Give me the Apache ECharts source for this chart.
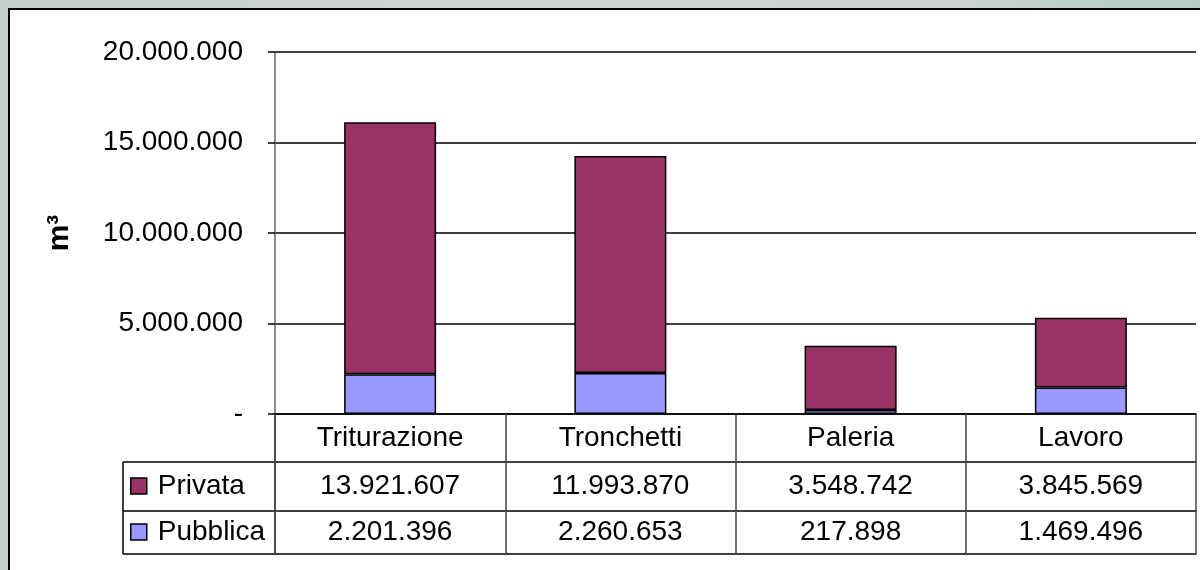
<!DOCTYPE html>
<html>
<head>
<meta charset="utf-8">
<script src="https://cdn.jsdelivr.net/npm/echarts@6/dist/echarts.min.js"></script>
<style>
  html, body { margin: 0; padding: 0; }
  body { width: 1200px; height: 570px; overflow: hidden; position: relative;
         background: linear-gradient(90deg, #c6cfcd 0%, #cfd5d4 40%, #ccd3d2 80%, #b5ccc6 100%); }
  #panel { position: absolute; left: 8px; top: 8px; width: 1200px; height: 570px;
           background: #ffffff; border-left: 2px solid #000; border-top: 2px solid #000; }
  #chart { position: absolute; left: 0; top: 0; width: 1200px; height: 570px; }
</style>
</head>
<body>
<div id="panel"></div>
<div id="chart"></div>
<script>
// ---- data ----
var categories = ['Triturazione', 'Tronchetti', 'Paleria', 'Lavoro'];
var seriesNames = ['Privata', 'Pubblica'];
var privata = [13921607, 11993870, 3548742, 3845569];
var pubblica = [2201396, 2260653, 217898, 1469496];
var yTicks = [0, 5000000, 10000000, 15000000, 20000000];
var yAxisName = 'm\u00B3';

function fmt(v) {
  if (v === 0) return '-';
  return String(Math.round(v)).replace(/\B(?=(\d{3})+(?!\d))/g, '.');
}

var FONT = 'Liberation Sans, Arial, sans-serif';
var FS = 28;
var gridLeft = 275, gridRight = 1196, gridTop = 52, gridBottom = 414;
var row1 = 462, row2 = 511, row3 = 554;

var chart = echarts.init(document.getElementById('chart'), null, { renderer: 'canvas' });

function tableAxis(data, offset, tickLen, margin) {
  return {
    type: 'category',
    data: data,
    position: 'bottom',
    offset: offset,
    boundaryGap: true,
    axisLine: { show: true, lineStyle: { color: '#000', width: 1.5 } },
    axisTick: { show: tickLen > 0, length: tickLen, interval: 0, alignWithLabel: false,
                lineStyle: { color: '#444', width: 1.5 } },
    axisLabel: { show: true, interval: 0, margin: margin, color: '#000',
                 fontFamily: FONT, fontSize: FS, lineHeight: FS },
    splitLine: { show: false }
  };
}

var option = {
  animation: false,
  backgroundColor: 'transparent',
  grid: { left: gridLeft, right: 1200 - gridRight, top: gridTop, bottom: 570 - gridBottom, containLabel: false },
  legend: {
    data: seriesNames,
    orient: 'vertical',
    left: 130,
    top: 472,
    padding: 0,
    itemGap: 18,
    itemWidth: 16,
    itemHeight: 16,
    icon: 'rect',
    textStyle: { fontFamily: FONT, fontSize: FS, color: '#000', lineHeight: FS, padding: [0, 0, 0, 6] },
    itemStyle: { borderColor: '#000', borderWidth: 1.5 },
    selectedMode: false
  },
  xAxis: [
    tableAxis(categories, 0, row1 - gridBottom, 10),
    tableAxis(privata.map(fmt), row1 - gridBottom, row2 - row1, 10),
    tableAxis(pubblica.map(fmt), row2 - gridBottom, row3 - row2, 7),
    {
      type: 'category', data: categories, position: 'bottom', offset: row3 - gridBottom,
      axisLine: { show: true, lineStyle: { color: '#000', width: 1.5 } },
      axisTick: { show: false }, axisLabel: { show: false }, splitLine: { show: false }
    }
  ],
  yAxis: {
    type: 'value',
    min: yTicks[0],
    max: yTicks[yTicks.length - 1],
    interval: yTicks[1] - yTicks[0],
    name: yAxisName,
    nameLocation: 'middle',
    nameRotate: 90,
    nameGap: 200,
    nameTextStyle: { fontFamily: FONT, fontSize: 30, fontWeight: 'bold', color: '#000' },
    axisLine: { show: true, lineStyle: { color: '#666', width: 1.5 } },
    axisTick: { show: true, inside: false, length: 7, lineStyle: { color: '#000', width: 1.5 } },
    axisLabel: { margin: 32, color: '#000', fontFamily: FONT, fontSize: FS, formatter: fmt },
    splitLine: { show: true, lineStyle: { color: '#000', width: 1.5 } }
  },
  series: [
    {
      name: seriesNames[1], type: 'bar', stack: 'tot', data: pubblica, xAxisIndex: 0,
      barWidth: 92,
      itemStyle: { color: '#9999FF', borderColor: '#000', borderWidth: 1.5 }
    },
    {
      name: seriesNames[0], type: 'bar', stack: 'tot', data: privata, xAxisIndex: 0,
      barWidth: 92,
      itemStyle: { color: '#993366', borderColor: '#000', borderWidth: 1.5 }
    }
  ],
  graphic: [
    { type: 'line', shape: { x1: 123, y1: row1, x2: gridLeft, y2: row1 }, style: { stroke: '#000', lineWidth: 1.5 } },
    { type: 'line', shape: { x1: 123, y1: row2, x2: gridLeft, y2: row2 }, style: { stroke: '#000', lineWidth: 1.5 } },
    { type: 'line', shape: { x1: 123, y1: row3, x2: gridLeft, y2: row3 }, style: { stroke: '#000', lineWidth: 1.5 } },
    { type: 'line', shape: { x1: 123, y1: row1, x2: 123, y2: row3 }, style: { stroke: '#000', lineWidth: 1.5 } },
    { type: 'line', shape: { x1: gridLeft, y1: gridBottom, x2: gridLeft, y2: row3 }, style: { stroke: '#444', lineWidth: 1.5 } }
  ]
};

chart.setOption(option);
</script>
</body>
</html>
